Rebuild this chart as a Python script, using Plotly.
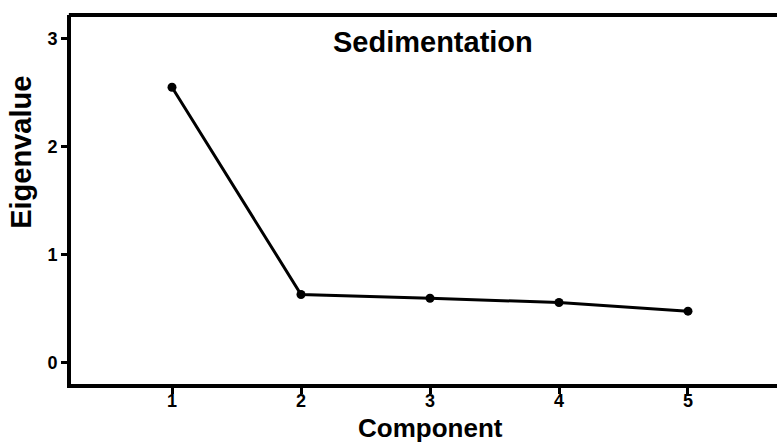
import plotly.graph_objects as go

components = [1, 2, 3, 4, 5]
eigenvalues = [2.55, 0.63, 0.595, 0.555, 0.475]
x_ticks = [1, 2, 3, 4, 5]
y_ticks = [0, 1, 2, 3]

W, H = 777, 443
L, R, T, B = 71, 0, 15, 59

fig = go.Figure()
fig.add_trace(go.Scatter(
    x=components, y=eigenvalues, mode="lines+markers",
    line=dict(color="black", width=3),
    marker=dict(color="black", size=9),
    showlegend=False, cliponaxis=False,
))

font_family = "Liberation Sans, Arial, sans-serif"
fig.update_layout(
    width=W, height=H,
    margin=dict(l=L, r=R, t=T, b=B),
    paper_bgcolor="white", plot_bgcolor="white",
    font=dict(family=font_family, color="black"),
    xaxis=dict(
        range=[0.217, 5.69], tickvals=x_ticks, ticktext=[str(v) for v in x_ticks],
        showgrid=False, zeroline=False,
        showline=True, linecolor="black", linewidth=4,
        ticks="outside", ticklen=6, tickwidth=3, tickcolor="black",
        ticklabelstandoff=-9,
        tickfont=dict(size=18, family=font_family, weight="bold"),
    ),
    yaxis=dict(
        range=[-0.2, 3.22], tickvals=y_ticks, ticktext=[str(v) for v in y_ticks],
        showgrid=False, zeroline=False,
        showline=True, linecolor="black", linewidth=4,
        ticks="outside", ticklen=6, tickwidth=3, tickcolor="black",
        tickfont=dict(size=18, family=font_family, weight="bold"),
    ),
    shapes=[dict(type="line", xref="paper", yref="paper", x0=-0.003, x1=1.01, y0=1, y1=1,
                 line=dict(color="black", width=4))],
    annotations=[
        dict(text="<b>Sedimentation</b>", x=3.02, y=2.97, xref="x", yref="y",
             xanchor="center", yanchor="middle",
             showarrow=False, font=dict(size=29, family=font_family)),
        dict(text="<b>Component</b>", x=3.0, y=-0.119, xref="x", yref="paper",
             xanchor="center", yanchor="middle",
             showarrow=False, font=dict(size=26, family=font_family)),
        dict(text="<b>Eigenvalue</b>", x=-0.072, y=0.627, xref="paper", yref="paper",
             xanchor="center", yanchor="middle",
             showarrow=False, textangle=-90, font=dict(size=29, family=font_family)),
    ],
)

fig.write_html("out.html", config={"displayModeBar": False},
               post_script="document.body.style.margin='0px';")
